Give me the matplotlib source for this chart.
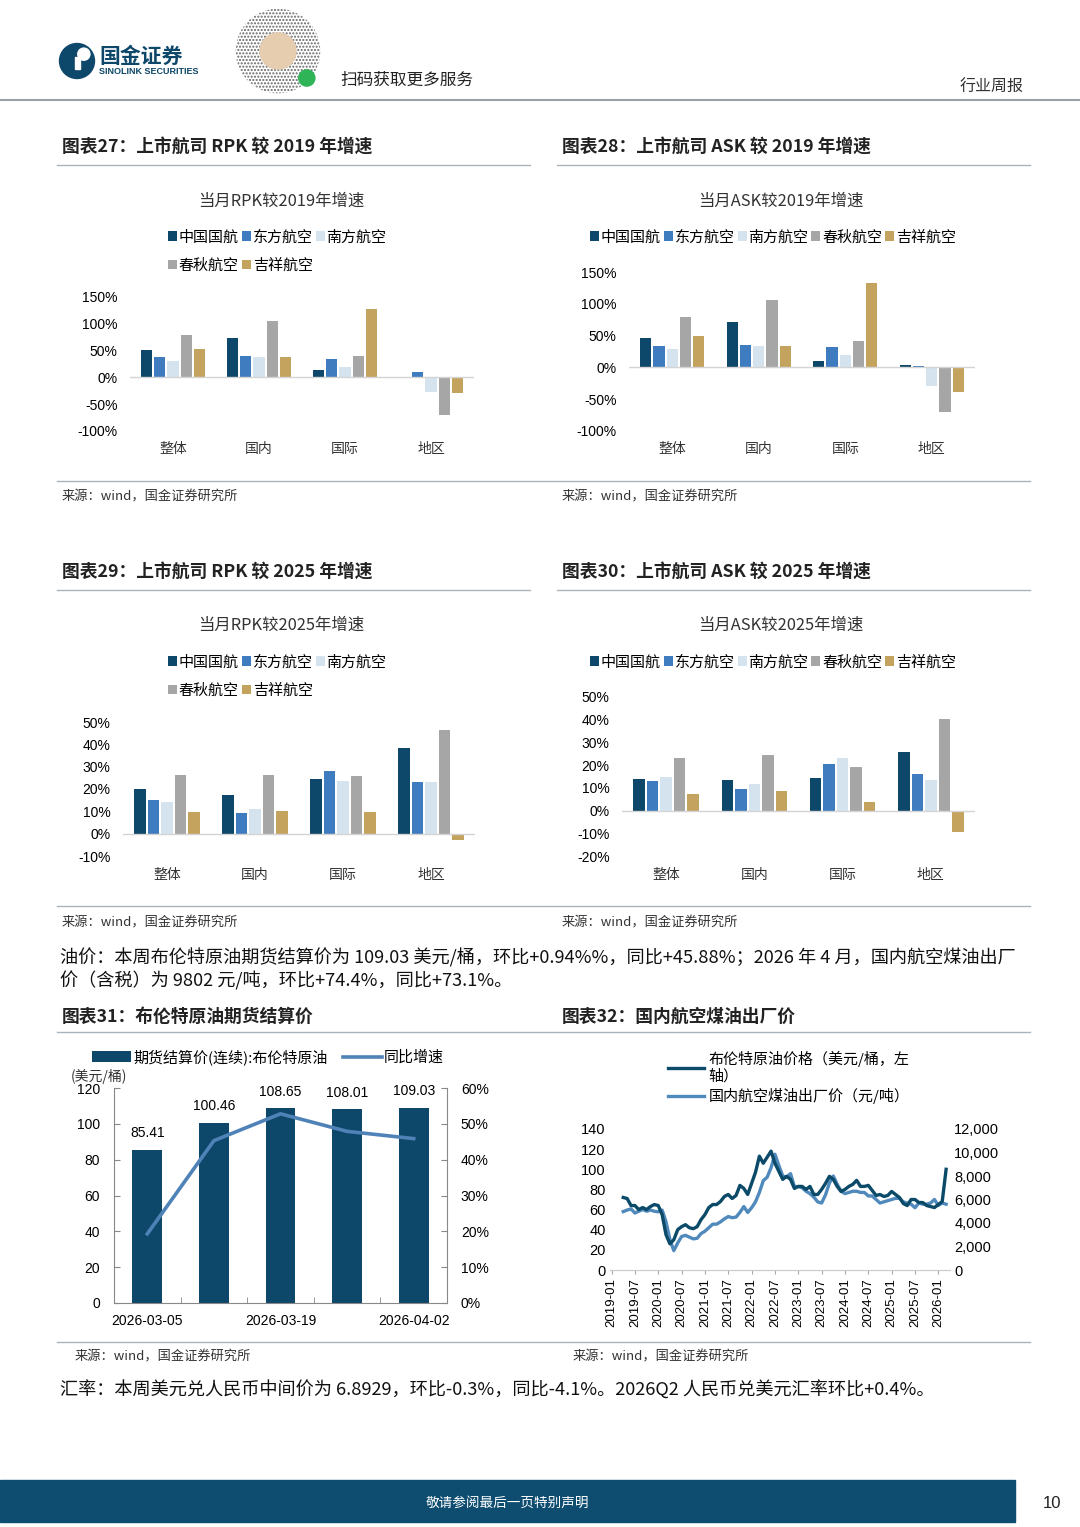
import numpy as np
import pandas as pd
import matplotlib
matplotlib.use('Agg')
import matplotlib.pyplot as plt
from matplotlib.patches import Rectangle, Circle
from matplotlib.lines import Line2D
from matplotlib.ticker import FuncFormatter

plt.rcParams['font.family'] = ['Noto Sans CJK SC', 'DejaVu Sans']
NUM = ['Liberation Sans', 'Noto Sans CJK SC']

# ---------------------------------------------------------------
# 数据
categories = ['整体', '国内', '国际', '地区']
airlines = ['中国国航', '东方航空', '南方航空', '春秋航空', '吉祥航空']
bar_colors = ['#0d4769', '#3f7cbf', '#d5e3ef', '#a6a6a6', '#c4a35f']

# 每行一家航司, 列顺序同 categories (单位 %)
rpk_vs2019 = [[51, 74, 14, -1],
              [38, 40, 35, 10],
              [31, 38, 19, -27],
              [79, 106, 40, -70],
              [53, 38, 128, -30]]
ask_vs2019 = [[46, 72, 10, 4],
              [33, 35, 32, 2],
              [29, 34, 19, -30],
              [80, 106, 42, -70],
              [50, 34, 133, -39]]
rpk_vs2025 = [[19.8, 17.4, 24.5, 38.3],
              [15.0, 9.4, 28.0, 23.2],
              [14.3, 10.9, 23.7, 23.2],
              [26.3, 26.3, 26.0, 46.5],
              [9.7, 10.0, 9.7, -3.0]]
ask_vs2025 = [[14.0, 13.6, 14.5, 26.0],
              [13.1, 9.6, 20.4, 16.0],
              [14.8, 11.6, 23.0, 13.4],
              [23.1, 24.3, 19.3, 40.4],
              [7.2, 8.8, 3.6, -9.3]]

# 图表31
brent_dates = ['2026-03-05', '2026-03-12', '2026-03-19', '2026-03-26', '2026-04-02']
brent_settle = [85.41, 100.46, 108.65, 108.01, 109.03]
brent_yoy = [19.3, 45.3, 52.8, 47.9, 45.88]

# 图表32 (月度, 2019-04 ~ 2026-03)
brent_monthly = [72, 71, 64, 64, 60, 62, 60, 63, 65,
                 64, 55, 35, 26, 30, 40, 43, 45, 42, 41, 43, 50,
                 55, 62, 65, 65, 68, 73, 75, 71, 74, 84, 81, 75,
                 86, 97, 113, 106, 112, 118, 106, 98, 90, 93, 90, 81,
                 83, 83, 80, 83, 75, 75, 80, 86, 93, 90, 83, 78,
                 80, 83, 85, 89, 83, 83, 84, 79, 74, 75, 73, 74,
                 78, 75, 72, 66, 64, 70, 70, 67, 67, 64, 63, 62,
                 65, 68, 100]
jet_fuel = [4970, 5100, 5200, 4850, 5000, 5150, 5000, 5100, 5000,
            4950, 5100, 4100, 2600, 1650, 2300, 2850, 2950, 2800, 2650, 2700, 3100,
            3300, 3600, 3900, 3900, 4100, 4350, 4550, 4450, 4500, 4900, 5400, 4900,
            5300, 5800, 6600, 7600, 7900, 8700, 9850, 8900, 8000, 7900, 8200, 7100,
            7100, 7000, 6700, 6500, 6200, 5800, 5700, 6400, 7400, 8000, 7300, 6700,
            6500, 6600, 6700, 6700, 6600, 6600, 6300, 6300, 6000, 5700, 5800, 5900,
            6000, 6100, 6100, 5800, 5700, 5600, 5300, 5700, 5600, 5600, 5700, 6000,
            5500, 5700, 5600]
months = pd.date_range('2019-04-01', periods=len(brent_monthly), freq='MS')
tick_months = pd.date_range('2019-01-01', '2026-01-01', freq='6MS')

# ---------------------------------------------------------------
W, H = 1080, 1527
fig = plt.figure(figsize=(W / 100, H / 100), dpi=100)
LINE = '#aab3ba'
NAVY = '#0d4769'


def box(x0, y0, x1, y1):
    return fig.add_axes([x0 / W, 1 - y1 / H, (x1 - x0) / W, (y1 - y0) / H])


def put(x, y, s, **kw):
    kw.setdefault('va', 'center')
    fig.text(x / W, 1 - y / H, s, **kw)


def hline(x0, x1, y, color=LINE, lw=1.0):
    fig.add_artist(Line2D([x0 / W, x1 / W], [1 - y / H, 1 - y / H], color=color, lw=lw))


def bar_chart(rect, data, ylim, yticks, xpad):
    ax = box(*rect)
    idx = np.arange(len(categories))
    step, width = 0.153, 0.128
    for k, vals in enumerate(data):
        ax.bar(idx + (k - 2) * step, vals, width, color=bar_colors[k], label=airlines[k])
    ax.set_xlim(-0.5, 3.5)
    ax.set_ylim(*ylim)
    ax.set_yticks(yticks)
    ax.set_yticklabels([f'{t}%' for t in yticks], fontfamily=NUM, fontsize=10)
    ax.set_xticks(idx)
    ax.set_xticklabels(categories, fontsize=10, color='#333333')
    ax.tick_params(axis='both', length=0)
    ax.tick_params(axis='y', pad=9)
    ax.tick_params(axis='x', pad=xpad)
    for s in ax.spines.values():
        s.set_visible(False)
    ax.axhline(0, color='#d4d4d4', lw=1)
    return ax


def bar_legend(ax, x, y, ncol):
    h, l = ax.get_legend_handles_labels()
    if ncol == 3:
        order = [0, 3, 1, 4, 2]
        h = [h[i] for i in order]
        l = [l[i] for i in order]
    ax.legend(h, l, ncol=ncol, loc='upper left', bbox_to_anchor=(x / W, 1 - y / H),
              bbox_transform=fig.transFigure, frameon=False, fontsize=10.8,
              handlelength=0.6, handleheight=0.6, handletextpad=0.12,
              columnspacing=0.2, labelspacing=0.95, borderaxespad=0, borderpad=0)


# ---------------------------------------------------------------
# 页眉
lg = box(58, 42, 96, 80)
lg.set_xlim(0, 1); lg.set_ylim(0, 1); lg.set_aspect('equal'); lg.axis('off')
lg.add_patch(Circle((0.5, 0.5), 0.46, color=NAVY))
lg.add_patch(Circle((0.68, 0.68), 0.16, color='white'))
lg.add_patch(Rectangle((0.44, 0.3), 0.14, 0.3, color='white'))
put(99, 56, '国金证券', fontsize=15, fontweight='bold', color=NAVY)
put(99, 71, 'SINOLINK SECURITIES', fontsize=6.5, fontweight='bold', color=NAVY, fontfamily=NUM)

qr = box(233, 6, 323, 96)
qr.set_xlim(0, 1); qr.set_ylim(0, 1); qr.set_aspect('equal'); qr.axis('off')
qr.add_patch(Circle((0.5, 0.5), 0.47, facecolor='white', edgecolor='#666666', hatch='.....', lw=0))
qr.add_patch(Circle((0.5, 0.5), 0.2, color='#e6cdb0'))
qr.add_patch(Circle((0.82, 0.2), 0.09, color='#2fb457'))
put(340, 80, '扫码获取更多服务', fontsize=12, color='#222222')
put(960, 87, '行业周报', fontsize=11.5, color='#333333')
hline(0, 1080, 100, color='#9aa0a4', lw=1.5)

# ---------------------------------------------------------------
# 图表27-30
TITLE = dict(fontsize=12.8, fontweight='bold', color='#222222')
SRC = dict(fontsize=9.5, color='#333333')
SUB = dict(fontsize=11.8, ha='center', color='#333333')

put(62, 147, '图表27：上市航司 RPK 较 2019 年增速', **TITLE)
put(562, 147, '图表28：上市航司 ASK 较 2019 年增速', **TITLE)
hline(57, 530, 165)
hline(557, 1030, 165)
put(281, 201, '当月RPK较2019年增速', **SUB)
put(781, 201, '当月ASK较2019年增速', **SUB)

ax27 = bar_chart((130, 297, 474, 431), rpk_vs2019, (-100, 150), [-100, -50, 0, 50, 100, 150], 8)
bar_legend(ax27, 168, 230, 3)
ax28 = bar_chart((629, 272, 975, 431), ask_vs2019, (-100, 150), [-100, -50, 0, 50, 100, 150], 8)
bar_legend(ax28, 590, 230, 5)

hline(57, 1030, 481)
put(62, 497, '来源：wind，国金证券研究所', **SRC)
put(562, 497, '来源：wind，国金证券研究所', **SRC)

put(62, 572, '图表29：上市航司 RPK 较 2025 年增速', **TITLE)
put(562, 572, '图表30：上市航司 ASK 较 2025 年增速', **TITLE)
hline(57, 530, 590)
hline(557, 1030, 590)
put(281, 625, '当月RPK较2025年增速', **SUB)
put(781, 625, '当月ASK较2025年增速', **SUB)

ax29 = bar_chart((123, 722, 475, 856), rpk_vs2025, (-10, 50), [-10, 0, 10, 20, 30, 40, 50], 8.5)
bar_legend(ax29, 168, 655, 3)
ax30 = bar_chart((622, 697, 975, 856), ask_vs2025, (-20, 50), [-20, -10, 0, 10, 20, 30, 40, 50], 8.5)
bar_legend(ax30, 590, 655, 5)

hline(57, 1030, 906)
put(62, 923, '来源：wind，国金证券研究所', **SRC)
put(562, 923, '来源：wind，国金证券研究所', **SRC)

# 正文
put(60, 958, '油价：本周布伦特原油期货结算价为 109.03 美元/桶，环比+0.94%%，同比+45.88%；2026 年 4 月，国内航空煤油出厂',
    fontsize=13.1, color='#111111')
put(60, 981, '价（含税）为 9802 元/吨，环比+74.4%，同比+73.1%。', fontsize=13.1, color='#111111')

put(62, 1017, '图表31：布伦特原油期货结算价', **TITLE)
put(562, 1017, '图表32：国内航空煤油出厂价', **TITLE)
hline(57, 1030, 1032)

# ---------------------------------------------------------------
# 图表31
ax31 = box(114, 1088, 447, 1303)
x31 = np.arange(len(brent_dates))
bars = ax31.bar(x31, brent_settle, 0.45, color=NAVY, label='期货结算价(连续):布伦特原油')
ax31.bar_label(bars, labels=[f'{v:.2f}' for v in brent_settle], padding=7, fontsize=10, fontfamily=NUM)
ax31.set_xlim(-0.5, 4.5)
ax31.set_ylim(0, 120)
ax31.set_yticks(range(0, 121, 20))
ax31.set_xticks([0, 2, 4])
ax31.set_xticklabels([brent_dates[i] for i in [0, 2, 4]], fontfamily=NUM, fontsize=10)
ax31.set_xticks([0.5, 1.5, 2.5, 3.5], minor=True)
ax31.tick_params(axis='x', which='major', length=0, pad=8)
ax31.tick_params(axis='x', which='minor', length=4, direction='in', color='#888888')
ax31.tick_params(axis='y', direction='in', length=4, pad=10, color='#888888', labelsize=10)
for t in ax31.get_yticklabels():
    t.set_fontfamily(NUM)
ax31.spines['top'].set_visible(False)
ax31.spines['right'].set_visible(False)
for s in ['left', 'bottom']:
    ax31.spines[s].set_color('#888888')

ax31b = ax31.twinx()
ax31b.plot(x31, brent_yoy, color='#4f83b7', lw=2.6, label='同比增速')
ax31b.set_ylim(0, 60)
ax31b.set_yticks(range(0, 61, 10))
ax31b.yaxis.set_major_formatter(FuncFormatter(lambda v, p: f'{v:.0f}%'))
ax31b.tick_params(axis='y', direction='in', length=4, pad=10, color='#888888', labelsize=10)
for t in ax31b.get_yticklabels():
    t.set_fontfamily(NUM)
for s in ['top', 'left', 'bottom']:
    ax31b.spines[s].set_visible(False)
ax31b.spines['right'].set_color('#888888')

h1, l1 = ax31.get_legend_handles_labels()
h2, l2 = ax31b.get_legend_handles_labels()
ax31b.legend(h1 + h2, l1 + l2, ncol=2, loc='upper left', bbox_to_anchor=(92 / W, 1 - 1049 / H),
             bbox_transform=fig.transFigure, frameon=False, fontsize=10.8, handlelength=2.6,
             handleheight=0.7, handletextpad=0.15, columnspacing=1.0, borderaxespad=0, borderpad=0)
put(71, 1077, '(美元/桶)', fontsize=10, color='#333333')

# 图表32
ax32 = box(610, 1129, 950, 1270)
mi = np.array([(d.year - 2019) * 12 + d.month - 1 for d in months])
ti = [(d.year - 2019) * 12 + d.month - 1 for d in tick_months]
ax32b = ax32.twinx()
ax32b.plot(mi, jet_fuel, color='#5089bb', lw=2.4, label='国内航空煤油出厂价（元/吨）')
ax32.plot(mi, brent_monthly, color='#0b4a68', lw=2.4, label='布伦特原油价格（美元/桶，左\n轴）')
ax32.set_zorder(ax32b.get_zorder() + 1)
ax32.patch.set_visible(False)
ax32.set_xlim(-0.4, 87)
ax32.set_ylim(0, 140)
ax32.set_yticks(range(0, 141, 20))
ax32b.set_ylim(0, 12000)
ax32b.set_yticks(range(0, 12001, 2000))
ax32b.yaxis.set_major_formatter(FuncFormatter(lambda v, p: f'{v:,.0f}'))
ax32.set_xticks(ti)
ax32.set_xticklabels([d.strftime('%Y-%m') for d in tick_months], rotation=90,
                     fontfamily=NUM, fontsize=9.5)
ax32.tick_params(axis='x', length=3, color='#aaaaaa', pad=3)
ax32.tick_params(axis='y', length=0, pad=3, labelsize=10.5)
ax32b.tick_params(axis='y', length=0, pad=3, labelsize=10.5)
for t in ax32.get_yticklabels() + ax32b.get_yticklabels():
    t.set_fontfamily(NUM)
for a in (ax32, ax32b):
    for s in ['top', 'left', 'right']:
        a.spines[s].set_visible(False)
    a.spines['bottom'].set_color('#cccccc')

h1, l1 = ax32.get_legend_handles_labels()
h2, l2 = ax32b.get_legend_handles_labels()
ax32.legend(h1 + h2, l1 + l2, loc='upper left', bbox_to_anchor=(668 / W, 1 - 1051 / H),
            bbox_transform=fig.transFigure, frameon=False, fontsize=10.8, handlelength=2.4,
            handletextpad=0.3, labelspacing=0.3, borderaxespad=0, borderpad=0)

hline(57, 1030, 1342)
put(75, 1357, '来源：wind，国金证券研究所', **SRC)
put(573, 1357, '来源：wind，国金证券研究所', **SRC)

put(60, 1390, '汇率：本周美元兑人民币中间价为 6.8929，环比-0.3%，同比-4.1%。2026Q2 人民币兑美元汇率环比+0.4%。',
    fontsize=13.1, color='#111111')

# 页脚
fig.add_artist(Rectangle((0, 1 - 1522 / H), 1015 / W, 42 / H, transform=fig.transFigure,
                         color='#0e4d70'))
put(507, 1503, '敬请参阅最后一页特别声明', fontsize=9.8, color='white', ha='center')
put(1052, 1503, '10', fontsize=12, color='#222222', ha='center', fontfamily=NUM)

fig.savefig('out.png', dpi=100, facecolor='white')
